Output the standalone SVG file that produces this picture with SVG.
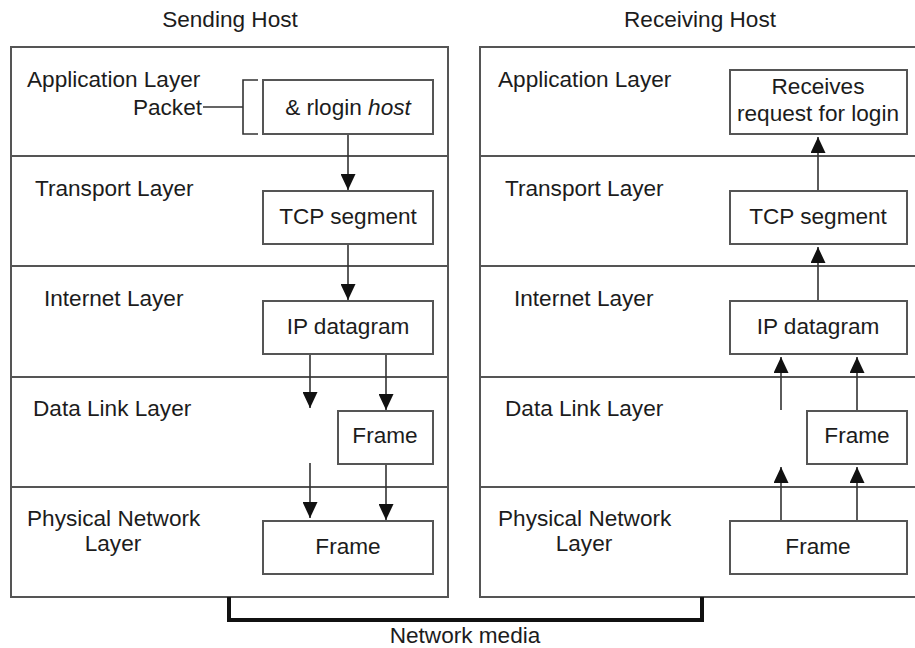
<svg xmlns="http://www.w3.org/2000/svg" width="915" height="648" viewBox="0 0 915 648">
<style>
  text { font-family: "Liberation Sans", Arial, sans-serif; font-size: 22.6px; fill: #1c1c1c; }
  .mid { text-anchor: middle; }
  .host { fill: #fff; stroke: #555; stroke-width: 2; }
  .div { stroke: #555; stroke-width: 2; fill: none; }
  .box { fill: #fff; stroke: #555; stroke-width: 2; }
  .conn { stroke: #333; stroke-width: 1.6; fill: none; }
  .media { stroke: #111; stroke-width: 4; fill: none; }
</style>
<defs>
  <marker id="ah" viewBox="0 0 16 15" refX="16" refY="7.5" markerWidth="16" markerHeight="15" markerUnits="userSpaceOnUse" orient="auto">
    <path d="M0,0 L16,7.5 L0,15 Z" fill="#111"/>
  </marker>
</defs>
<rect width="915" height="648" fill="#fff"/>

<g id="sending-host">
  <text class="mid" x="230" y="27">Sending Host</text>
  <rect class="host" x="11" y="47" width="437" height="550"/>
  <path class="div" d="M11,156 H448 M11,266 H448 M11,377 H448 M11,487 H448"/>
  <text x="27" y="87">Application Layer</text>
  <text x="35" y="196">Transport Layer</text>
  <text x="44" y="306">Internet Layer</text>
  <text x="33" y="416">Data Link Layer</text>
  <text x="27" y="526">Physical Network</text>
  <text class="mid" x="113" y="551">Layer</text>
</g>

<g id="receiving-host">
  <text class="mid" x="700" y="27">Receiving Host</text>
  <rect class="host" x="480" y="47" width="450" height="550"/>
  <path class="div" d="M480,156 H915 M480,266 H915 M480,377 H915 M480,487 H915"/>
  <text x="498" y="87">Application Layer</text>
  <text x="505" y="196">Transport Layer</text>
  <text x="514" y="306">Internet Layer</text>
  <text x="505" y="416">Data Link Layer</text>
  <text x="498" y="526">Physical Network</text>
  <text class="mid" x="584" y="551">Layer</text>
</g>

<g id="packet-label">
  <text x="202" y="115" text-anchor="end">Packet</text>
  <path class="conn" d="M203,107 H243 M258,80 H243 V134 H258"/>
</g>

<g id="s-app">
  <rect class="box" x="263" y="80" width="170" height="54"/>
  <text class="mid" x="348" y="115">&amp; rlogin <tspan font-style="italic">host</tspan></text>
</g>
<g id="s-tcp">
  <rect class="box" x="263" y="191" width="170" height="53"/>
  <text class="mid" x="348" y="224">TCP segment</text>
</g>
<g id="s-ip">
  <rect class="box" x="263" y="301" width="170" height="53"/>
  <text class="mid" x="348" y="334">IP datagram</text>
</g>
<g id="s-frame-dl">
  <rect class="box" x="338" y="411" width="95" height="53"/>
  <text class="mid" x="385" y="443">Frame</text>
</g>
<g id="s-frame-ph">
  <rect class="box" x="263" y="521" width="170" height="53"/>
  <text class="mid" x="348" y="554">Frame</text>
</g>

<g id="r-app">
  <rect class="box" x="730" y="70" width="177" height="64"/>
  <text class="mid" x="818" y="94">Receives</text>
  <text class="mid" x="818" y="121">request for login</text>
</g>
<g id="r-tcp">
  <rect class="box" x="730" y="191" width="177" height="53"/>
  <text class="mid" x="818" y="224">TCP segment</text>
</g>
<g id="r-ip">
  <rect class="box" x="730" y="301" width="177" height="53"/>
  <text class="mid" x="818" y="334">IP datagram</text>
</g>
<g id="r-frame-dl">
  <rect class="box" x="807" y="411" width="100" height="53"/>
  <text class="mid" x="857" y="443">Frame</text>
</g>
<g id="r-frame-ph">
  <rect class="box" x="730" y="521" width="177" height="53"/>
  <text class="mid" x="818" y="554">Frame</text>
</g>

<g id="connectors">
  <path class="conn" marker-end="url(#ah)" d="M348,135 V190"/>
  <path class="conn" marker-end="url(#ah)" d="M348,245 V300"/>
  <path class="conn" marker-end="url(#ah)" d="M310,355 V408"/>
  <path class="conn" marker-end="url(#ah)" d="M386,355 V410"/>
  <path class="conn" marker-end="url(#ah)" d="M310,463 V518"/>
  <path class="conn" marker-end="url(#ah)" d="M386,465 V520"/>

  <path class="conn" marker-end="url(#ah)" d="M818,190 V137"/>
  <path class="conn" marker-end="url(#ah)" d="M818,300 V247"/>
  <path class="conn" marker-end="url(#ah)" d="M781,410 V357"/>
  <path class="conn" marker-end="url(#ah)" d="M857,410 V357"/>
  <path class="conn" marker-end="url(#ah)" d="M781,520 V467"/>
  <path class="conn" marker-end="url(#ah)" d="M857,520 V467"/>

  <path class="media" d="M229,597 V620 H702 V597"/>
</g>
<text class="mid" x="465" y="643">Network media</text>
</svg>
